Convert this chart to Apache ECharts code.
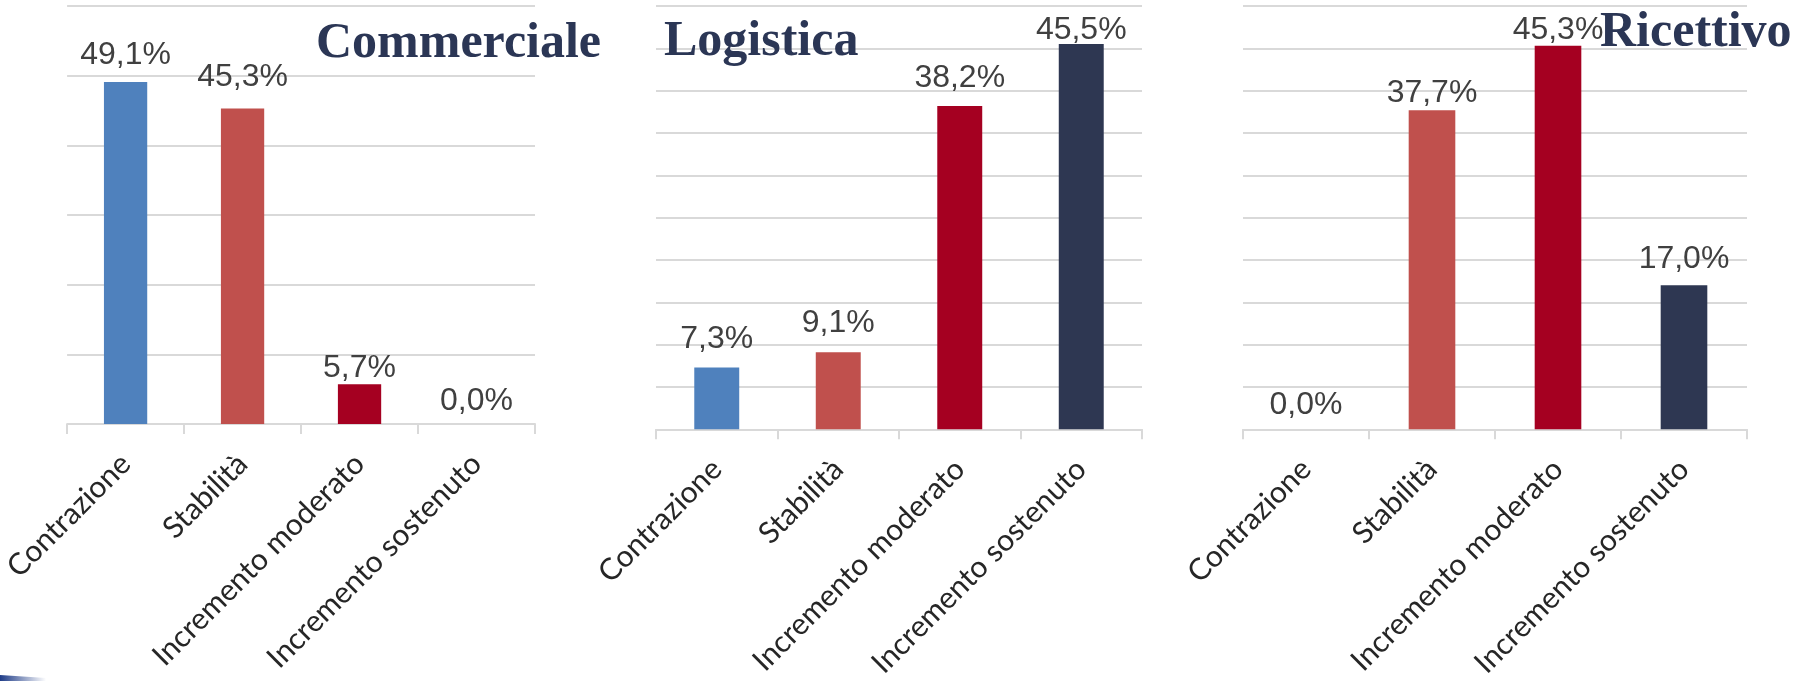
<!DOCTYPE html>
<html>
<head>
<meta charset="utf-8">
<title>Aspettative per settore</title>
<script src="https://cdn.jsdelivr.net/npm/echarts@6/dist/echarts.min.js"></script>
<style>
    html, body { margin: 0; padding: 0; background: #fff; }
    #chart_show { width: 1796px; height: 681px; }
</style>
</head>
<body>
<div id="chart_show"></div>
<script>
// dati
var categories = ['Contrazione', 'Stabilità', 'Incremento moderato', 'Incremento sostenuto'];
var sectorNames = ['Commerciale', 'Logistica', 'Ricettivo'];
var commercialeValues = [49.1, 45.3, 5.7, 0.0];
var logisticaValues = [7.3, 9.1, 38.2, 45.5];
var ricettivoValues = [0.0, 37.7, 45.3, 17.0];
var axisMax = [60, 50, 50];
var axisStep = [10, 5, 5];

(function () {
    var Sector_Charts = {
        opts: {
            barColors: ['#4F81BD', '#C0504D', '#A50021', '#2E3752'],
            gridColor: '#D9D9D9',
            titleColor: '#2B3655',
            grids: [
                {left: 65, width: 470, top: 6, height: 418},
                {left: 656, width: 486, top: 6, height: 428},
                {left: 1243, width: 504, top: 6, height: 424}
            ],
            titles: [
                {left: 316, top: 19},
                {left: 664, top: 17},
                {left: 1600, top: 8}
            ],
            // distanza etichetta-barra, come nell'originale (spostate a mano)
            labelDistance: [
                [11, 15, 0, 7],
                [12, 13, 12, -2],
                [8, 1, 0, 10]
            ]
        },
        init: function () {
            var myChart = echarts.init(document.getElementById('chart_show'), null, {renderer: 'canvas'});
            myChart.setOption(this.formatChart([commercialeValues, logisticaValues, ricettivoValues]));
        },
        formatPercent: function (v) {
            return v.toFixed(1).replace('.', ',') + '%';
        },
        formatChart: function (values) {
            var content = this;
            var o = content.opts;
            var title = [], grid = [], xAxis = [], yAxis = [], series = [];

            values.forEach(function (data, i) {
                title.push({
                    text: sectorNames[i],
                    left: o.titles[i].left,
                    top: o.titles[i].top,
                    padding: 0,
                    textStyle: {
                        fontFamily: 'Liberation Serif',
                        fontWeight: 'bold',
                        fontSize: 50,
                        color: o.titleColor
                    }
                });

                grid.push(o.grids[i]);

                xAxis.push({
                    type: 'category',
                    gridIndex: i,
                    data: categories,
                    axisLine: {lineStyle: {color: o.gridColor, width: 2}},
                    axisTick: {show: true, length: 10, lineStyle: {color: o.gridColor, width: 2}},
                    axisLabel: {
                        interval: 0,
                        rotate: 45,
                        margin: 35,
                        fontFamily: 'Lato',
                        fontSize: 30,
                        color: '#262626'
                    }
                });

                yAxis.push({
                    type: 'value',
                    gridIndex: i,
                    min: 0,
                    max: axisMax[i],
                    interval: axisStep[i],
                    axisLabel: {show: false},
                    axisLine: {show: false},
                    axisTick: {show: false},
                    splitLine: {lineStyle: {color: o.gridColor, width: 2}}
                });

                series.push({
                    type: 'bar',
                    xAxisIndex: i,
                    yAxisIndex: i,
                    barWidth: '37%',
                    data: data.map(function (v, j) {
                        return {value: v, label: {distance: o.labelDistance[i][j]}};
                    }),
                    itemStyle: {
                        color: function (p) { return o.barColors[p.dataIndex]; }
                    },
                    label: {
                        show: true,
                        position: 'top',
                        fontFamily: 'Liberation Sans',
                        fontSize: 32,
                        color: '#404040',
                        formatter: function (p) { return content.formatPercent(p.value); }
                    }
                });
            });

            return {
                backgroundColor: '#ffffff',
                animation: false,
                title: title,
                grid: grid,
                xAxis: xAxis,
                yAxis: yAxis,
                series: series,
                // piccolo segno blu della slide in basso a sinistra
                graphic: [{
                    type: 'polygon',
                    silent: true,
                    shape: {points: [[0, 675], [46, 678], [46, 681], [0, 681]]},
                    style: {
                        fill: new echarts.graphic.LinearGradient(0, 0, 1, 0, [
                            {offset: 0, color: '#1F3C88'},
                            {offset: 1, color: 'rgba(31,60,136,0)'}
                        ])
                    }
                }]
            };
        }
    };

    Sector_Charts.init();
})();
</script>
</body>
</html>
